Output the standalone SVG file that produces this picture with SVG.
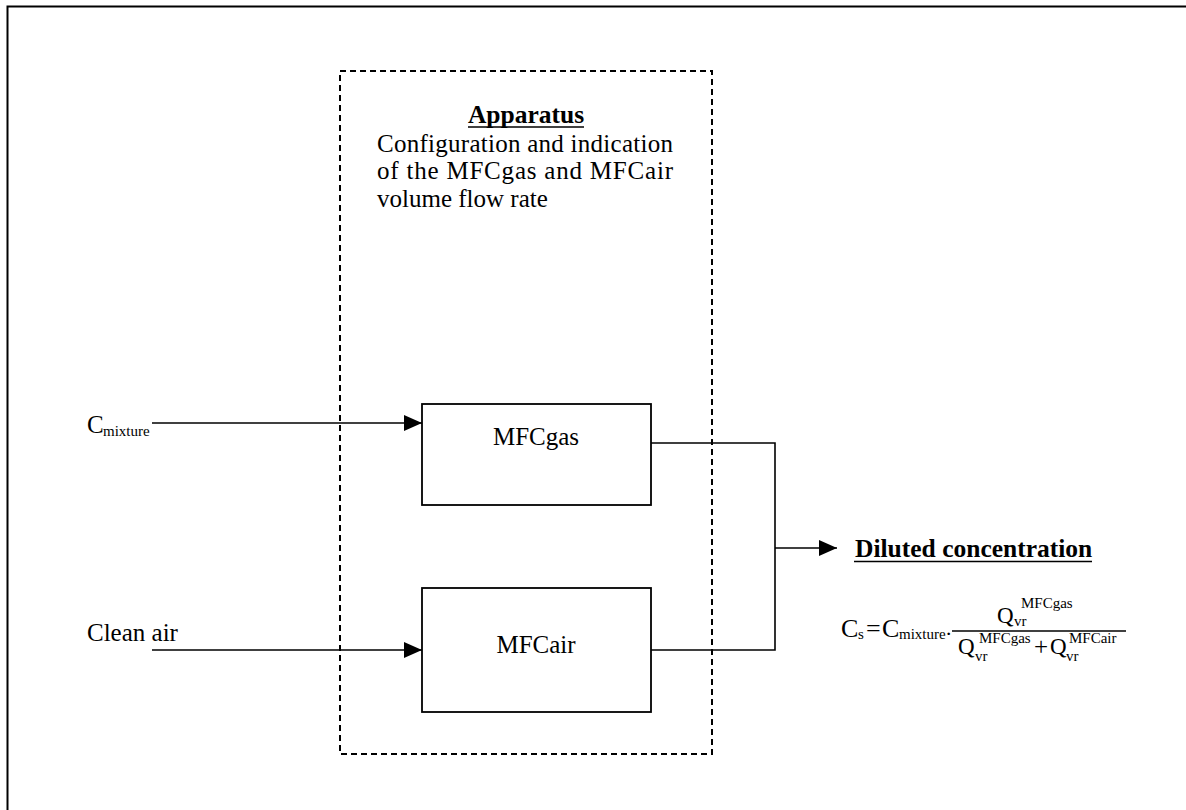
<svg xmlns="http://www.w3.org/2000/svg" width="1186" height="810" viewBox="0 0 1186 810">
<style>
text{font-family:"Liberation Serif","Times New Roman",serif;fill:#000}
.n{font-size:25px}
.b{font-size:25.5px;font-weight:bold}
.s{font-size:15px}
.sm{font-size:15px}
.ln{stroke:#000;stroke-width:1.6;fill:none}
.box{stroke:#000;stroke-width:1.8;fill:#fff}
.dash{stroke:#000;stroke-width:2;fill:none;stroke-dasharray:6 4}
</style>
<defs>
<marker id="ah" markerUnits="userSpaceOnUse" markerWidth="18" markerHeight="16" refX="18" refY="8" orient="auto">
<path d="M0,0 L18,8 L0,16 Z" fill="#000"/>
</marker>
</defs>
<rect width="1186" height="810" fill="#fff"/>
<path d="M7.5,810 V6.5 H1186" stroke="#000" stroke-width="2" fill="none"/>
<g id="apparatus">
<rect class="dash" x="340" y="71" width="372" height="683"/>
<text class="b" x="526" y="123" text-anchor="middle">Apparatus</text>
<line x1="468" y1="127" x2="584" y2="127" stroke="#000" stroke-width="1.5"/>
<text class="n" x="377" y="152" textLength="296" lengthAdjust="spacing">Configuration and indication</text>
<text class="n" x="377" y="179" textLength="296" lengthAdjust="spacing">of the MFCgas and MFCair</text>
<text class="n" x="377" y="207">volume flow rate</text>
</g>
<g id="mfcgas">
<rect class="box" x="422" y="404" width="229" height="101"/>
<text class="n" x="536" y="445" text-anchor="middle">MFCgas</text>
</g>
<g id="mfcair">
<rect class="box" x="422" y="588" width="229" height="124"/>
<text class="n" x="536" y="653" text-anchor="middle">MFCair</text>
</g>
<g id="cmixture">
<text class="n" x="87" y="433">C</text>
<text class="s" x="103" y="436">mixture</text>
</g>
<g id="cleanair">
<text class="n" x="87" y="641">Clean air</text>
</g>
<g id="diluted">
<text class="b" x="855" y="557">Diluted concentration</text>
<line x1="854" y1="561.5" x2="1092" y2="561.5" stroke="#000" stroke-width="1.6"/>
</g>
<g id="formula">
<text x="841" y="637" style="font-size:26px">C</text>
<text class="s" x="858" y="639">s</text>
<text x="866" y="637" style="font-size:26px">=</text>
<text x="882" y="637" style="font-size:26px">C</text>
<text class="s" x="899" y="639">mixture</text>
<text x="945" y="641" style="font-size:22px">·</text>
<line x1="952" y1="631" x2="1126" y2="631" stroke="#000" stroke-width="1.5"/>
<text x="997" y="623" style="font-size:23px">Q</text>
<text class="sm" x="1021" y="608">MFCgas</text>
<text class="sm" x="1014" y="626">vr</text>
<text x="958" y="654" style="font-size:23px">Q</text>
<text class="sm" x="979" y="643">MFCgas</text>
<text class="sm" x="975" y="661">vr</text>
<text x="1034" y="655" style="font-size:25px">+</text>
<text x="1050" y="654" style="font-size:23px">Q</text>
<text class="sm" x="1069" y="643">MFCair</text>
<text class="sm" x="1066" y="661">vr</text>
</g>
<g id="connectors">
<line class="ln" x1="152" y1="423" x2="422" y2="423" marker-end="url(#ah)"/>
<line class="ln" x1="152" y1="650" x2="422" y2="650" marker-end="url(#ah)"/>
<polyline class="ln" points="651,443 775,443 775,650 651,650"/>
<line class="ln" x1="775" y1="548" x2="837" y2="548" marker-end="url(#ah)"/>
</g>
</svg>
